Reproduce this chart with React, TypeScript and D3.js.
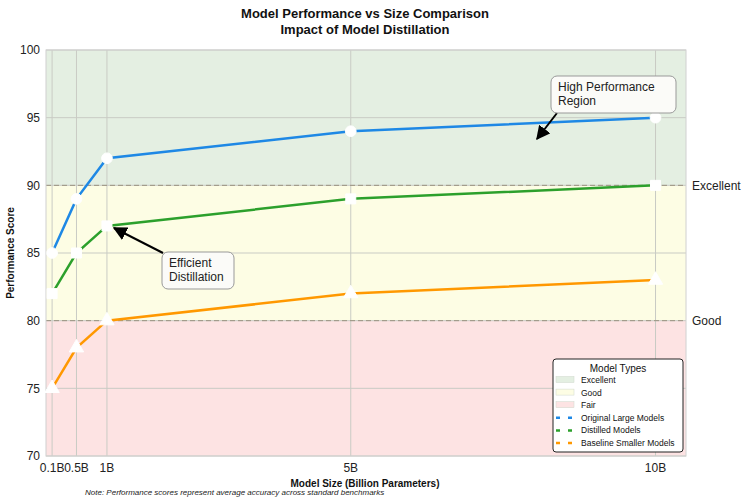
import * as d3 from 'd3';

// model sizes in billions of parameters
const sizes = [0.1, 0.5, 1, 5, 10];
const sizeLabels = ['0.1B', '0.5B', '1B', '5B', '10B'];
const originalScores = [85, 89, 92, 94, 95];
const distilledScores = [82, 85, 87, 89, 90];
const baselineScores = [75, 78, 80, 82, 83];
const yTicks = [70, 75, 80, 85, 90, 95, 100];

const bands = [
  { name: 'Excellent', lo: 90, hi: 100, fill: '#e4efe2' },
  { name: 'Good', lo: 80, hi: 90, fill: '#fdfde4' },
  { name: 'Fair', lo: 70, hi: 80, fill: '#fde3e3' },
];
const thresholds = [
  { value: 90, label: 'Excellent' },
  { value: 80, label: 'Good' },
];

const series = [
  { name: 'Original Large Models', values: originalScores, color: '#1e88e5', marker: 'circle' },
  { name: 'Distilled Models', values: distilledScores, color: '#2ca02c', marker: 'square' },
  { name: 'Baseline Smaller Models', values: baselineScores, color: '#ff9800', marker: 'triangle' },
];

const W = 750;
const H = 501;
const m = { left: 46, right: 686, top: 50, bottom: 456 };
const font = 'Liberation Sans, Arial, sans-serif';

export default function App() {
  const x = d3.scaleLinear().domain([0, 10.5]).range([m.left, m.right]);
  const y = d3.scaleLinear().domain([70, 100]).range([m.bottom, m.top]);
  const line = d3.line<number>().x((_, i) => x(sizes[i])).y(v => y(v));
  const sym = {
    circle: d3.symbol(d3.symbolCircle, 90)(),
    square: d3.symbol(d3.symbolSquare, 100)(),
    triangle: d3.symbol(d3.symbolTriangle, 90)(),
  } as Record<string, string>;

  const legendX = 553;
  const legendY = 359;
  const rowY = (i: number) => legendY + 21 + i * 12.6;

  return (
    <svg width={W} height={H} style={{ position: 'absolute', left: 0, top: 0, background: '#fff' }} fontFamily={font}>
      <defs>
        <marker id="arrow" viewBox="0 0 10 10" refX="9" refY="5" markerWidth="7" markerHeight="7" orient="auto">
          <path d="M0,0 L10,5 L0,10 z" fill="#000" />
        </marker>
      </defs>

      {/* quality bands */}
      {bands.map(b => (
        <rect key={b.name} x={m.left} y={y(b.hi)} width={m.right - m.left} height={y(b.lo) - y(b.hi)} fill={b.fill} />
      ))}

      {/* grid */}
      {yTicks.map(t => (
        <line key={'gy' + t} x1={m.left} x2={m.right} y1={y(t)} y2={y(t)} stroke="#c9cbc4" strokeWidth={1} />
      ))}
      {sizes.map(s => (
        <line key={'gx' + s} x1={x(s)} x2={x(s)} y1={m.top} y2={m.bottom} stroke="#c9cbc4" strokeWidth={1} />
      ))}

      {/* threshold lines */}
      {thresholds.map(t => (
        <g key={t.label}>
          <line x1={m.left} x2={m.right} y1={y(t.value)} y2={y(t.value)} stroke="#9a9280" strokeWidth={1} strokeDasharray="5,3" />
          <text x={m.right + 6} y={y(t.value)} dy="0.35em" fontSize={12} fill="#222">{t.label}</text>
        </g>
      ))}

      <rect x={m.left} y={m.top} width={m.right - m.left} height={m.bottom - m.top} fill="none" stroke="#d0d0d0" strokeWidth={1} />

      {/* series */}
      {series.map(s => (
        <g key={s.name}>
          <path d={line(s.values) ?? ''} fill="none" stroke={s.color} strokeWidth={2.5} />
          {s.values.map((v, i) => (
            <path key={i} d={sym[s.marker]} transform={`translate(${x(sizes[i])},${y(v)})`} fill="#fff" stroke="#fff" strokeWidth={1} />
          ))}
        </g>
      ))}

      {/* axes labels */}
      {yTicks.map(t => (
        <text key={'ty' + t} x={m.left - 6} y={y(t)} dy="0.35em" textAnchor="end" fontSize={12} fill="#222">{t}</text>
      ))}
      {sizes.map((s, i) => (
        <text key={'tx' + s} x={x(s)} y={m.bottom + 16} textAnchor="middle" fontSize={12} fill="#222">{sizeLabels[i]}</text>
      ))}
      <text x={365} y={487} textAnchor="middle" fontSize={10} fontWeight="bold" fill="#111">Model Size (Billion Parameters)</text>
      <text transform={`translate(14,${(m.top + m.bottom) / 2}) rotate(-90)`} textAnchor="middle" fontSize={10} fontWeight="bold" fill="#111">Performance Score</text>
      <text x={85} y={495} fontSize={8} fontStyle="italic" fill="#222">Note: Performance scores represent average accuracy across standard benchmarks</text>

      {/* title */}
      <text x={365} y={18} textAnchor="middle" fontSize={13} fontWeight="bold" fill="#111">Model Performance vs Size Comparison</text>
      <text x={365} y={34} textAnchor="middle" fontSize={13} fontWeight="bold" fill="#111">Impact of Model Distillation</text>

      {/* annotations */}
      <line x1={557} y1={113} x2={537} y2={139} stroke="#000" strokeWidth={2} markerEnd="url(#arrow)" />
      <rect x={551} y={76} width={125} height={37} rx={6} fill="#fbfbf8" stroke="#999" strokeWidth={1} />
      <text x={558} y={91} fontSize={12} fill="#222">High Performance</text>
      <text x={558} y={105} fontSize={12} fill="#222">Region</text>

      <line x1={163} y1={253} x2={114} y2={228} stroke="#000" strokeWidth={2} markerEnd="url(#arrow)" />
      <rect x={162} y={252} width={72} height={37} rx={6} fill="#fbfbf8" stroke="#999" strokeWidth={1} />
      <text x={169} y={267} fontSize={12} fill="#222">Efficient</text>
      <text x={169} y={281} fontSize={12} fill="#222">Distillation</text>

      {/* legend */}
      <rect x={legendX} y={legendY} width={130} height={93} rx={3} fill="#fff" stroke="#222" strokeWidth={1} />
      <text x={legendX + 65} y={legendY + 13} textAnchor="middle" fontSize={10} fill="#111">Model Types</text>
      {bands.map((b, i) => (
        <g key={'lb' + b.name}>
          <rect x={legendX + 3} y={rowY(i) - 3.5} width={18} height={6} fill={b.fill} stroke="#cfd8cc" strokeWidth={0.5} />
          <text x={legendX + 28} y={rowY(i)} dy="0.35em" fontSize={8.5} fill="#111">{b.name}</text>
        </g>
      ))}
      {series.map((s, i) => (
        <g key={'ls' + s.name}>
          <line x1={legendX + 3} x2={legendX + 21} y1={rowY(i + 3)} y2={rowY(i + 3)} stroke={s.color} strokeWidth={2.5} strokeDasharray="4,8" />
          <text x={legendX + 28} y={rowY(i + 3)} dy="0.35em" fontSize={8.5} fill="#111">{s.name}</text>
        </g>
      ))}
    </svg>
  );
}
